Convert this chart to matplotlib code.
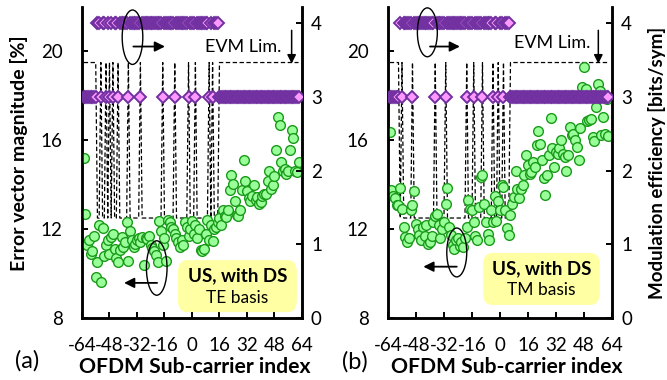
import matplotlib.pyplot as plt
import numpy as np
from matplotlib.patches import Ellipse, FancyBboxPatch

plt.rcParams['font.family'] = ['Lato', 'DejaVu Sans']
plt.rcParams['axes.unicode_minus'] = False

# sub-carrier index axis
subcarriers = np.arange(-63, 63)

# (a) TE basis: EVM [%] per sub-carrier, rows of 16 from -63
evm_te = [15.2, 12.7, 11.3, 11.5, 10.9, 11.0, 11.7, 9.85, 10.5, 12.2, 9.6, 12.05, 10.8, 11.3, 11.5, 10.9,
          11.65, 11.8, 11.1, 10.7, 10.5, 11.05, 11.65, 11.2, 11.4, 12.3, 10.55, 11.9, 11.5, 11.2, 11.35, 11.5,
          11.6, 11.4, 11.65, 10.4, 11.6, 11.55, 11.7, 11.3, 11.15, 11.0, 10.85, 10.5, 12.35, 11.9, 11.3, 11.6,
          10.55, 12.4, 12.3, 12.1, 12.0, 11.8, 11.6, 11.4, 11.2, 11.5, 11.3, 12.3, 12.1, 11.7, 12.0, 12.35,
          11.8, 12.2, 11.6, 12.0, 11.05, 11.0, 11.1, 11.8, 12.4, 11.5, 12.2, 11.45, 12.0, 12.1, 12.3, 12.5,
          12.2, 12.85, 12.6, 12.55, 12.85, 13.75, 14.45, 14.05, 13.25, 12.65, 12.6, 12.85, 13.75, 15.1, 14.15, 13.7,
          13.4, 13.25, 13.5, 14.0, 13.3, 13.45, 13.15, 13.2, 13.5, 13.6, 13.6, 14.15, 14.6, 13.8, 14.0, 14.4,
          15.55, 17.05, 16.7, 15.0, 14.6, 14.7, 14.5, 14.6, 15.55, 16.45, 16.1, 14.6, 14.55, 15.0]
bits_te = [3, 3, 3, 3, 3, 3, 3, 3, 4, 4, 3, 4, 4, 3, 4, 3,
           4, 3, 4, 4, 3, 4, 4, 4, 4, 4, 3, 4, 4, 4, 4, 4,
           4, 3, 4, 4, 4, 4, 4, 4, 4, 4, 4, 4, 4, 4, 3, 4,
           4, 4, 4, 4, 4, 3, 4, 4, 4, 4, 4, 4, 4, 3, 4, 4,
           4, 3, 4, 4, 4, 4, 4, 4, 4, 3, 4, 3, 4, 4, 4, 3,
           3, 3, 3, 3, 3, 3, 3, 3, 3, 3, 3, 3, 3, 3, 3, 3,
           3, 3, 3, 3, 3, 3, 3, 3, 3, 3, 3, 3, 3, 3, 3, 3,
           3, 3, 3, 3, 3, 3, 3, 3, 3, 3, 3, 3, 3, 3]

# (b) TM basis
evm_tm = [16.35, 13.75, 13.5, 13.4, 13.1, 13.1, 13.85, 12.9, 12.1, 11.65, 11.4, 11.6, 12.85, 13.1, 13.7, 12.25,
          12.0, 11.75, 11.5, 12.1, 11.7, 12.2, 11.35, 11.4, 11.7, 12.3, 12.6, 12.7, 12.2, 11.6, 12.0, 12.3,
          13.15, 13.85, 12.1, 11.75, 11.3, 11.1, 11.5, 11.6, 11.25, 11.4, 11.2, 11.6, 12.1, 13.3, 12.9, 12.85,
          12.3, 11.7, 11.5, 13.0, 14.35, 14.45, 13.15, 12.3, 11.8, 11.5, 12.85, 12.3, 13.5, 12.35, 13.25, 12.85,
          14.0, 13.9, 12.85, 12.05, 11.75, 12.65, 13.15, 13.45, 14.6, 13.8, 13.4, 13.8, 14.0, 14.45, 15.35, 14.9,
          14.5, 14.55, 15.0, 14.8, 15.8, 16.4, 15.85, 15.1, 14.3, 13.55, 14.45, 15.35, 17.0, 15.65, 14.8, 15.45,
          15.4, 15.65, 16.0, 15.4, 15.25, 14.6, 15.35, 16.6, 16.25, 16.3, 16.0, 15.7, 15.1, 16.55, 18.4, 19.3,
          18.3, 16.85, 16.9, 16.95, 16.15, 15.95, 17.5, 18.55, 18.2, 16.25, 17.05, 16.3, 17.85, 16.2]
bits_tm = [3, 3, 3, 3, 3, 3, 4, 3, 4, 4, 4, 4, 4, 3, 4, 4,
           4, 4, 4, 4, 4, 4, 4, 4, 4, 4, 3, 4, 4, 4, 4, 4,
           3, 4, 4, 4, 4, 4, 4, 4, 4, 4, 4, 4, 3, 4, 4, 4,
           3, 4, 4, 4, 4, 3, 4, 4, 4, 4, 4, 3, 4, 4, 3, 4,
           4, 3, 4, 4, 4, 3, 3, 3, 3, 3, 3, 3, 3, 3, 3, 3,
           3, 3, 3, 3, 3, 3, 3, 3, 3, 3, 3, 3, 3, 3, 3, 3,
           3, 3, 3, 3, 3, 3, 3, 3, 3, 3, 3, 3, 3, 3, 3, 3,
           3, 3, 3, 3, 3, 3, 3, 3, 3, 3, 3, 3, 3, 3]

evm_limit = {3: 19.5, 4: 12.5}   # EVM limit per modulation (bits/sym)
x_ticks = [-64, -48, -32, -16, 0, 16, 32, 48, 64]
evm_ticks = [8, 12, 16, 20]
eff_ticks = [0, 1, 2, 3, 4]


def draw_panel(fig, rect, evm, bits, basis, tag, opts):
    ax = fig.add_axes(rect)
    ax2 = ax.twinx()

    limit = [evm_limit[b] for b in bits]
    ax.plot(subcarriers, limit, color='k', lw=0.9, ls=(0, (3.5, 2)), zorder=1)
    ax.plot(subcarriers, evm, 'o', ms=7, mfc='#99ff99', mec='#1a9a1a', mew=1.0, zorder=3)
    ax2.plot(subcarriers, bits, 'D', ms=6.2, mfc='#ff99ff', mec='#7030a0', mew=1.4, zorder=3)

    ax.set_xlim(-64, 64)
    ax.set_ylim(8, 22)
    ax2.set_ylim(0, 4.22)
    ax.set_xticks(x_ticks)
    ax.set_yticks(evm_ticks)
    ax2.set_yticks(eff_ticks)
    ax.spines['top'].set_visible(False)
    ax2.spines['top'].set_visible(False)
    for sp in ['left', 'right', 'bottom']:
        ax.spines[sp].set_linewidth(1.8)
        ax2.spines[sp].set_linewidth(1.8)
    ax.tick_params(axis='x', direction='in', length=4, width=1.4, labelsize=13.5, pad=13.5)
    ax.tick_params(axis='y', direction='in', length=4, width=1.4, labelsize=13.5, pad=14)
    ax2.tick_params(axis='y', direction='in', length=4, width=1.4, labelsize=13.5, pad=6.5)

    ax.set_xlabel('OFDM Sub-carrier index', fontsize=15.2, fontweight='bold')
    ax.xaxis.label.set_va('center')
    ax.xaxis.set_label_coords(opts['xlabel_x'], -0.159)

    # ellipse + arrow markers
    for (cx, cy), (ax_from, ax_to, ay) in zip(opts['ellipses'], opts['arrows']):
        e = Ellipse((cx, cy), opts['ell_w'], opts['ell_h'], fill=False, lw=1.0,
                    ec='k', transform=ax.transData, zorder=5)
        ax2.add_patch(e)
        ax2.annotate('', xy=(ax_to, ay), xytext=(ax_from, ay), xycoords=ax.transData,
                     textcoords=ax.transData,
                     arrowprops=dict(arrowstyle='-|>', color='k', lw=1.3, mutation_scale=15,
                                     shrinkA=0, shrinkB=0), zorder=5)

    # EVM limit label
    lx, ly, arx = opts['evm_lim']
    ax2.text(lx, ly, 'EVM Lim.', transform=ax.transData, fontsize=13, ha='center', va='center')
    ax2.annotate('', xy=(arx, 19.45), xytext=(arx, 20.95), xycoords=ax.transData,
                 textcoords=ax.transData,
                 arrowprops=dict(arrowstyle='-|>', color='k', lw=1.1, mutation_scale=13,
                                 shrinkA=0, shrinkB=0))

    # yellow info box
    bx0, by0, bw, bh = opts['box']
    box = FancyBboxPatch((bx0, by0), bw, bh, boxstyle='round,pad=0,rounding_size=0.04',
                         transform=ax.transAxes, fc='#ffff99', ec='none', alpha=0.9, zorder=4)
    ax2.add_patch(box)
    tx = bx0 + bw / 2
    ax2.text(tx, by0 + bh * 0.7, 'US, with DS', transform=ax.transAxes, fontsize=13.5,
             fontweight='bold', ha='center', va='center', zorder=6)
    ax2.text(tx, by0 + bh * 0.28, basis, transform=ax.transAxes, fontsize=12.5,
             ha='center', va='center', zorder=6)

    fig.text(opts['tag_xy'][0], opts['tag_xy'][1], tag, fontsize=17, ha='center', va='center')
    return ax, ax2


fig = plt.figure(figsize=(6.67, 3.8), dpi=100)

opts_a = dict(xlabel_x=0.511,
              ellipses=[(-34.6, 20.64), (-20.5, 10.25)], ell_w=12, ell_h=2.45,
              arrows=[(-34.1, -15.7, 20.22), (-20.3, -39.5, 9.58)],
              evm_lim=(30, 20.2, 58),
              box=(0.436, 0.019, 0.541, 0.167),
              tag_xy=(0.040, 0.05))
opts_b = dict(xlabel_x=0.529,
              ellipses=[(-41.5, 20.86), (-24.7, 10.95)], ell_w=11.4, ell_h=2.2,
              arrows=[(-40.0, -22.9, 20.22), (-24.7, -43.8, 10.31)],
              evm_lim=(30, 20.37, 56.2),
              box=(0.424, 0.042, 0.522, 0.167),
              tag_xy=(0.532, 0.047))

ax_a, ax2_a = draw_panel(fig, [0.1229, 0.1632, 0.3298, 0.8184], evm_te, bits_te, 'TE basis', '(a)', opts_a)
ax_b, ax2_b = draw_panel(fig, [0.5817, 0.1632, 0.3358, 0.8184], evm_tm, bits_tm, 'TM basis', '(b)', opts_b)

ax_a.set_ylabel('Error vector magnitude [%]', fontsize=14, fontweight='bold')
ax_a.yaxis.set_label_coords(-0.245, 0.53)
ax2_b.set_ylabel('Modulation efficiency [bits/sym]', fontsize=13.5, fontweight='bold')
ax2_b.yaxis.set_label_coords(1.163, 0.5)

plt.savefig('out.png', dpi=100)
plt.close()
